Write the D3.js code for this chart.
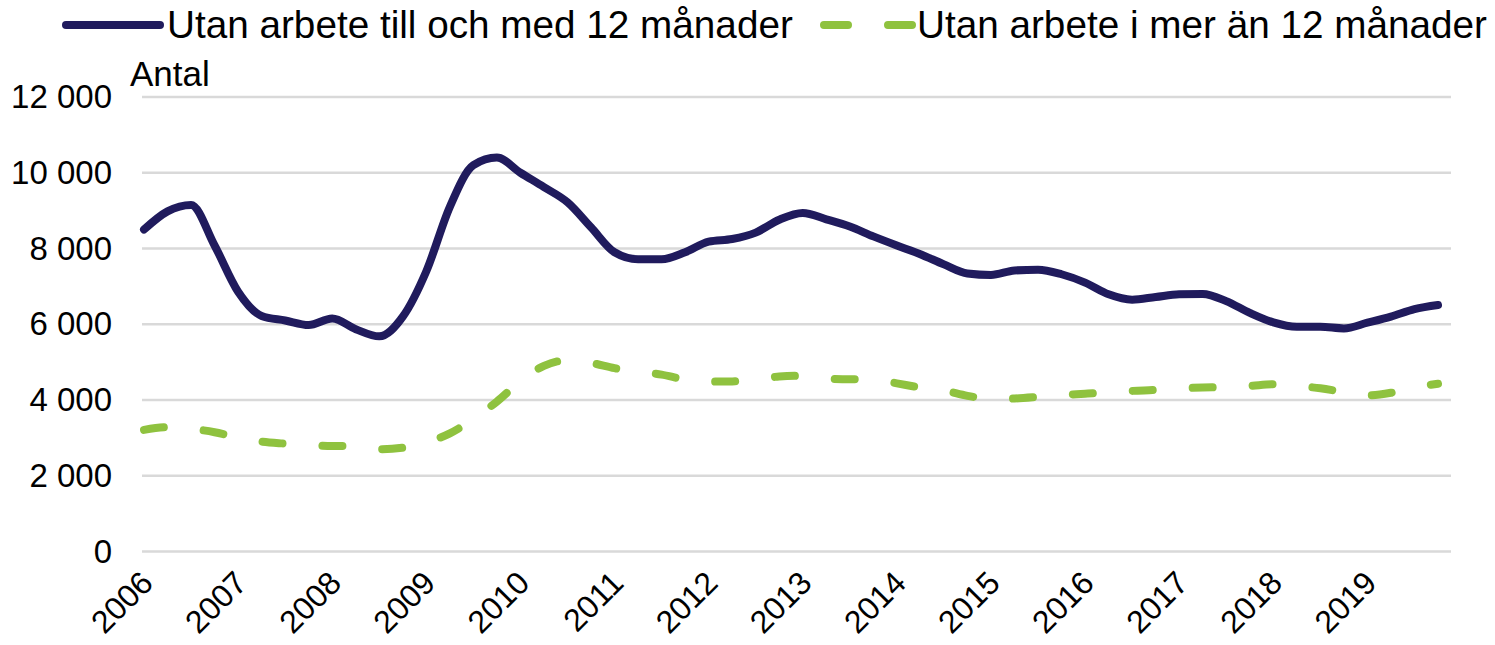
<!doctype html>
<html>
<head>
    <meta charset="utf-8">
    <title>Utan arbete</title>
    <style>
        body {
            margin: 0;
            padding: 0;
            background: #fff;
        }
        svg text {
            font-family: "Liberation Sans", Arial, sans-serif;
            fill: #000;
        }
    </style>
</head>
<body>
    <svg id="chart" width="1495" height="645"></svg>

    <script src="https://d3js.org/d3.v7.min.js"></script>
    <script>
        // quarterly readings, month "YYYY-MM"
        var months = ["2006-01","2006-04","2006-07","2006-10","2007-01","2007-04","2007-07","2007-10",
            "2008-01","2008-04","2008-07","2008-10","2009-01","2009-04","2009-07","2009-10",
            "2010-01","2010-04","2010-07","2010-10","2011-01","2011-04","2011-07","2011-10",
            "2012-01","2012-04","2012-07","2012-10","2013-01","2013-04","2013-07","2013-10",
            "2014-01","2014-04","2014-07","2014-10","2015-01","2015-04","2015-07","2015-10",
            "2016-01","2016-04","2016-07","2016-10","2017-01","2017-04","2017-07","2017-10",
            "2018-01","2018-04","2018-07","2018-10","2019-01","2019-04","2019-07","2019-10"];

        var upTo12 = [8500, 8980, 9150, 8080, 6860, 6220, 6100, 5980,
            6150, 5870, 5680, 6200, 7400, 9100, 10200, 10400,
            10000, 9620, 9220, 8560, 7900, 7715, 7715, 7900,
            8180, 8250, 8420, 8760, 8940, 8770, 8580, 8320,
            8080, 7850, 7580, 7340, 7300, 7420, 7440, 7320,
            7100, 6790, 6650, 6720, 6790, 6800, 6610, 6300,
            6050, 5935, 5935, 5890, 6040, 6200, 6400, 6510];

        var over12 = [3210, 3280, 3240, 3150, 3010, 2900, 2850, 2810,
            2785, 2785, 2700, 2740, 2880, 3120, 3500, 3960,
            4500, 4900, 5050, 4980, 4840, 4750, 4670, 4540,
            4485, 4490, 4545, 4620, 4640, 4570, 4545, 4545,
            4440, 4330, 4250, 4110, 4030, 4040, 4080, 4130,
            4165, 4200, 4240, 4265, 4305, 4330, 4340, 4370,
            4415, 4370, 4310, 4210, 4120, 4190, 4330, 4430];

        var years = ["2006","2007","2008","2009","2010","2011","2012","2013",
            "2014","2015","2016","2017","2018","2019"];
        var yTicks = [0, 2000, 4000, 6000, 8000, 10000, 12000];

        var seriesNames = ["Utan arbete till och med 12 månader", "Utan arbete i mer än 12 månader"];
        var navy = "#201b5d", green = "#8fc23f";

        function monthIndex(s) {
            var p = s.split("-");
            return (+p[0] - 2006) * 12 + (+p[1] - 1);
        }

        var svg = d3.select("#chart");

        var plotLeft = 142, plotRight = 1451;

        var x = d3.scaleLinear()
            .domain([0, 165])
            .range([144, 1438]);

        var y = d3.scaleLinear()
            .domain([0, 12000])
            .range([551.5, 97]);

        // gridlines
        svg.append("g")
            .selectAll("line")
            .data(yTicks)
            .enter().append("line")
            .attr("x1", plotLeft)
            .attr("x2", plotRight)
            .attr("y1", function(d) { return y(d); })
            .attr("y2", function(d) { return y(d); })
            .style("stroke", "#d9d9d9")
            .style("stroke-width", 2.5);

        // y axis
        var yAxis = svg.append("g")
            .attr("transform", "translate(112,0)")
            .call(d3.axisLeft(y).tickValues(yTicks).tickSize(0).tickPadding(0)
                .tickFormat(function(d) { return d3.format(",")(d).replace(",", " "); }));
        yAxis.select(".domain").remove();
        yAxis.selectAll("text")
            .style("font-size", "33px")
            .style("font-family", "Liberation Sans, Arial, sans-serif")
            .attr("fill", "#000");

        svg.append("text")
            .attr("x", 130)
            .attr("y", 86)
            .style("font-size", "35px")
            .text("Antal");

        // x labels
        svg.append("g")
            .selectAll("text")
            .data(years)
            .enter().append("text")
            .attr("transform", function(d) {
                return "translate(" + (x((+d - 2006) * 12) - 5) + ",569) rotate(-45)";
            })
            .attr("text-anchor", "end")
            .attr("dy", "0.7em")
            .style("font-size", "32px")
            .text(function(d) { return d; });

        var line = d3.line()
            .curve(d3.curveMonotoneX);

        var pts1 = months.map(function(m, i) { return [x(monthIndex(m)), y(upTo12[i])]; });
        var pts2 = months.map(function(m, i) { return [x(monthIndex(m)), y(over12[i])]; });

        svg.append("path")
            .attr("d", line(pts2))
            .style("fill", "none")
            .style("stroke", green)
            .style("stroke-width", 8)
            .style("stroke-linecap", "round")
            .style("stroke-dasharray", "20,40");

        svg.append("path")
            .attr("d", line(pts1))
            .style("fill", "none")
            .style("stroke", navy)
            .style("stroke-width", 8)
            .style("stroke-linecap", "round")
            .style("stroke-linejoin", "round");

        // legend
        var legend = svg.append("g");
        legend.append("line")
            .attr("x1", 66).attr("x2", 160)
            .attr("y1", 25).attr("y2", 25)
            .style("stroke", navy)
            .style("stroke-width", 8)
            .style("stroke-linecap", "round");
        legend.append("text")
            .attr("x", 167)
            .attr("y", 38)
            .style("font-size", "38.7px")
            .text(seriesNames[0]);

        legend.append("line")
            .attr("x1", 824).attr("x2", 912)
            .attr("y1", 25).attr("y2", 25)
            .style("stroke", green)
            .style("stroke-width", 8)
            .style("stroke-linecap", "round")
            .style("stroke-dasharray", "24,40");
        legend.append("text")
            .attr("x", 917)
            .attr("y", 38)
            .style("font-size", "38.7px")
            .text(seriesNames[1]);
    </script>
</body>
</html>
